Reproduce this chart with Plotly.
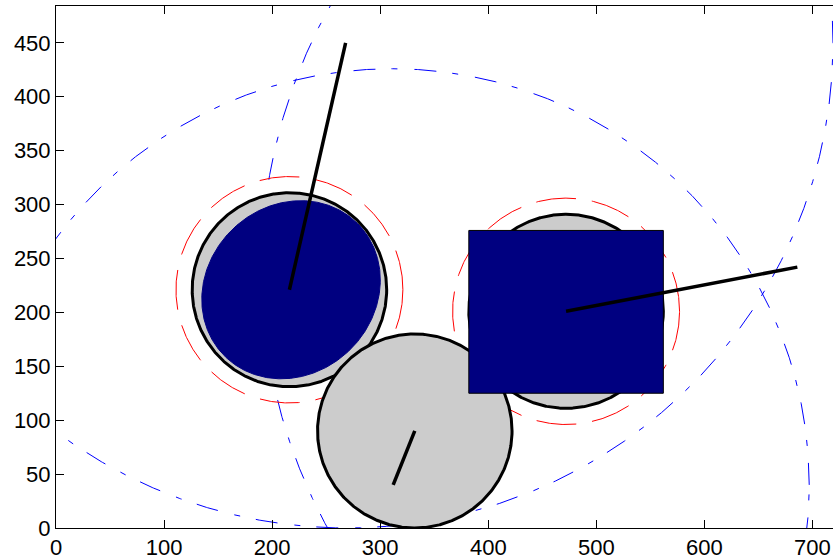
import numpy as np
import plotly.graph_objects as go

# ---- data ----
# filled gray circles (black outline)
disk_cx = [216, 332, 472]
disk_cy = [221, 90, 201]
disk_r = [90, 90, 90]

# red dashed rings
ring_cx = [216, 472]
ring_cy = [221, 201]
ring_r = [105, 105]

# large blue dash-dot circles
arc_cx = [311, 269, 691]
arc_cy = [40, 450, 240]
arc_r = [386, 450, 501]

# black direction lines
seg_x0 = [216, 332, 472]
seg_y0 = [221, 90, 201]
seg_x1 = [268, 312, 686]
seg_y1 = [450, 40, 242]

# navy ellipse inside first circle
blob_cx, blob_cy = 217.5, 221
blob_a, blob_b, blob_angle = 87, 78, 45

# navy rectangle over third circle
rect_x = [382, 562]
rect_y = [125, 276]

x_ticks = [0, 100, 200, 300, 400, 500, 600, 700]
y_ticks = [0, 50, 100, 150, 200, 250, 300, 350, 400, 450]

GRAY = "#cccccc"
NAVY = "#000080"

t = np.linspace(0, 2 * np.pi, 721)
t_big = np.linspace(0, 2 * np.pi, 4001)

fig = go.Figure()

# blue dash-dot circles (bottom layer)
for cx, cy, r in zip(arc_cx, arc_cy, arc_r):
    fig.add_trace(go.Scatter(
        x=cx + r * np.cos(t_big), y=cy + r * np.sin(t_big), mode="lines",
        line=dict(color="#0000ff", width=1, dash="22px,17px,6px,16px"),
        hoverinfo="skip"))

# red dashed rings
for cx, cy, r in zip(ring_cx, ring_cy, ring_r):
    fig.add_trace(go.Scatter(
        x=cx + r * np.cos(t), y=cy + r * np.sin(t), mode="lines",
        line=dict(color="#ff0000", width=1, dash="40px,16px"),
        hoverinfo="skip"))

# gray disks
for cx, cy, r in zip(disk_cx, disk_cy, disk_r):
    fig.add_trace(go.Scatter(
        x=cx + r * np.cos(t), y=cy + r * np.sin(t), mode="lines",
        fill="toself", fillcolor=GRAY,
        line=dict(color="black", width=3), hoverinfo="skip"))

# navy ellipse
ang = np.deg2rad(blob_angle)
ex = blob_a * np.cos(t)
ey = blob_b * np.sin(t)
fig.add_trace(go.Scatter(
    x=blob_cx + ex * np.cos(ang) - ey * np.sin(ang),
    y=blob_cy + ex * np.sin(ang) + ey * np.cos(ang),
    mode="lines", fill="toself", fillcolor=NAVY,
    line=dict(color=NAVY, width=1), hoverinfo="skip"))

# navy rectangle
fig.add_trace(go.Scatter(
    x=[rect_x[0], rect_x[1], rect_x[1], rect_x[0], rect_x[0]],
    y=[rect_y[0], rect_y[0], rect_y[1], rect_y[1], rect_y[0]],
    mode="lines", fill="toself", fillcolor=NAVY,
    line=dict(color="black", width=1), hoverinfo="skip"))

# black direction lines
for x0, y0, x1, y1 in zip(seg_x0, seg_y0, seg_x1, seg_y1):
    fig.add_trace(go.Scatter(
        x=[x0, x1], y=[y0, y1], mode="lines",
        line=dict(color="black", width=3.5), hoverinfo="skip"))

axis_font = dict(family="Liberation Sans, Arial, sans-serif", size=22, color="black")

fig.update_layout(
    width=833, height=560,
    margin=dict(l=56, r=0, t=6, b=32),
    paper_bgcolor="white", plot_bgcolor="white",
    showlegend=False,
    font=axis_font,
    xaxis=dict(range=[0, 719], tickvals=x_ticks, ticktext=[str(v) for v in x_ticks],
               showgrid=False, zeroline=False, showline=True, linecolor="black",
               linewidth=1, mirror="ticks", ticks="inside", ticklen=8,
               tickcolor="black", tickfont=axis_font),
    yaxis=dict(range=[0, 484.2], tickvals=y_ticks, ticktext=[str(v) for v in y_ticks],
               showgrid=False, zeroline=False, showline=True, linecolor="black",
               linewidth=1, mirror=False, ticks="inside", ticklen=8,
               tickcolor="black", tickfont=axis_font),
)

fig.write_html("out.html")
